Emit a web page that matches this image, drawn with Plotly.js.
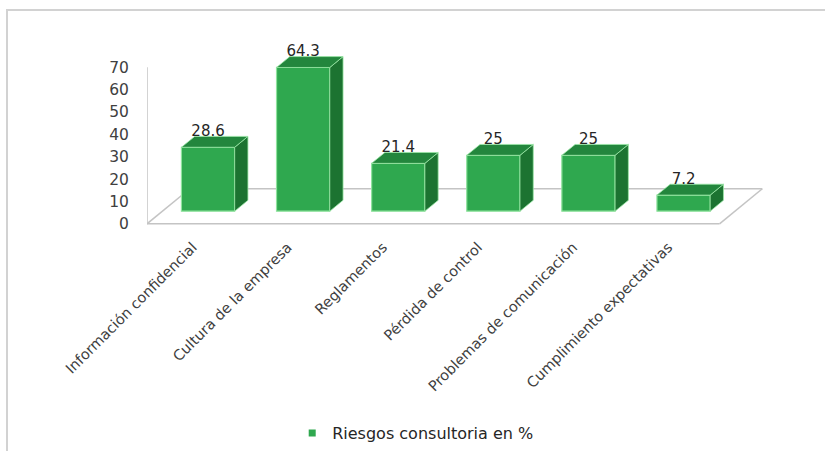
<!DOCTYPE html>
<html>
<head>
<meta charset="utf-8">
<script src="https://cdn.plot.ly/plotly-3.0.1.min.js"></script>
<style>
  html, body { margin: 0; padding: 0; background: #ffffff; }
  #wrap { position: relative; width: 825px; height: 451px; overflow: hidden; }
  #chart { position: absolute; left: 0; top: 0; width: 825px; height: 451px; }
  #frame { position: absolute; left: 6px; top: 9px; width: 840px; height: 460px;
           border-top: 2px solid #d2d2d2; border-left: 2px solid #d2d2d2; pointer-events: none; }
</style>
</head>
<body>
<div id="wrap">
  <div id="chart"></div>
  <div id="frame"></div>
</div>
<script>
// ---- data ----
const categories = ["Información confidencial", "Cultura de la empresa", "Reglamentos",
                    "Pérdida de control", "Problemas de comunicación", "Cumplimiento expectativas"];
const values = [28.6, 64.3, 21.4, 25, 25, 7.2];
const valueLabels = ["28.6", "64.3", "21.4", "25", "25", "7.2"];
const seriesName = "Riesgos consultoria en %";
const yTicks = [0, 10, 20, 30, 40, 50, 60, 70];

// ---- 3D projection styling (in axis units) ----
const DX = 0.45;     // full floor depth, x (category units)
const DY = 15.7;     // full floor depth, y (value units)
const T0 = 0.36;     // bar front depth fraction
const T1 = 0.67;     // bar back depth fraction
const BAR_W = 0.56;
const FX0 = -0.48, FX1 = 5.54;
const LABEL_LIFT = 2.0;

const idx = categories.map((c, i) => i);
const base0 = T0 * DY;
const fx = idx.map(i => i + T0 * DX);          // front-face centers
const ddx = (T1 - T0) * DX, ddy = (T1 - T0) * DY;

// side and top faces
const sideX = [], sideY = [], topX = [], topY = [];
values.forEach((v, i) => {
  const xl = fx[i] - BAR_W / 2, xr = fx[i] + BAR_W / 2, top = base0 + v;
  sideX.push(xr, xr + ddx, xr + ddx, xr, xr, null);
  sideY.push(base0, base0 + ddy, top + ddy, top, base0, null);
  topX.push(xl, xr, xr + ddx, xl + ddx, xl, null);
  topY.push(top, top, top + ddy, top + ddy, top, null);
});

const FONT = "DejaVu Sans, Arial, sans-serif";

const traces = [
  {
    type: "bar", x: fx, y: values, base: values.map(() => base0), width: BAR_W,
    name: seriesName, showlegend: false, hoverinfo: "skip",
    marker: { color: "#2fa84f", line: { color: "#8fe39d", width: 1.2 } }
  },
  {
    type: "scatter", mode: "lines", x: sideX, y: sideY, fill: "toself",
    fillcolor: "#1c7331", line: { color: "#9be7a6", width: 0.8 },
    showlegend: false, hoverinfo: "skip"
  },
  {
    type: "scatter", mode: "lines", x: topX, y: topY, fill: "toself",
    fillcolor: "#23863d", line: { color: "#9be7a6", width: 0.8 },
    showlegend: false, hoverinfo: "skip"
  },
  {
    type: "scatter", mode: "text", x: fx, y: values.map(v => base0 + v + ddy + LABEL_LIFT),
    text: valueLabels, textposition: "middle center",
    textfont: { family: FONT, size: 15, color: "#262626" },
    showlegend: false, hoverinfo: "skip", cliponaxis: false
  },
  {
    type: "scatter", mode: "markers", x: [null], y: [null], name: seriesName,
    marker: { symbol: "square", size: 7, color: "#2fa84f" }, showlegend: true
  }
];

const lineStyle = { color: "#c4c4c4", width: 1.5 };
const shapes = [
  { type: "line", xref: "x", yref: "y", x0: FX0, y0: 0, x1: FX1, y1: 0, line: lineStyle, layer: "below" },
  { type: "line", xref: "x", yref: "y", x0: FX1, y0: 0, x1: FX1 + DX, y1: DY, line: lineStyle, layer: "below" },
  { type: "line", xref: "x", yref: "y", x0: FX1 + DX, y0: DY, x1: FX0 + DX, y1: DY, line: lineStyle, layer: "below" },
  { type: "line", xref: "x", yref: "y", x0: FX0, y0: 0, x1: FX0 + DX, y1: DY, line: lineStyle, layer: "below" },
  { type: "line", xref: "x", yref: "y", x0: FX0, y0: 0, x1: FX0, y1: yTicks[yTicks.length - 1], line: lineStyle, layer: "below" }
];

const layout = {
  width: 825, height: 451,
  margin: { l: 147, r: 45, t: 45, b: 216, autoexpand: false },
  paper_bgcolor: "rgba(0,0,0,0)", plot_bgcolor: "rgba(0,0,0,0)",
  showlegend: true,
  legend: { orientation: "h", x: 0.4245, xanchor: "center", yref: "container", y: (451 - 433) / 451, yanchor: "middle",
            font: { family: FONT, size: 16, color: "#262626" } },
  xaxis: {
    range: [-0.48, 6.176], tickmode: "array", tickvals: idx, ticktext: categories,
    tickangle: -45, showgrid: false, zeroline: false, showline: false, ticks: "",
    tickfont: { family: FONT, size: 14.5, color: "#404040" }, fixedrange: true, automargin: false
  },
  yaxis: {
    range: [-5, 80], tickmode: "array", tickvals: yTicks,
    showgrid: false, zeroline: false, showline: false,
    ticks: "outside", ticklen: 14, tickcolor: "rgba(0,0,0,0)",
    tickfont: { family: FONT, size: 15.5, color: "#404040" }, fixedrange: true, automargin: false
  },
  shapes: shapes,
  font: { family: FONT }
};

Plotly.newPlot("chart", traces, layout, { displayModeBar: false, staticPlot: true });
</script>
</body>
</html>
